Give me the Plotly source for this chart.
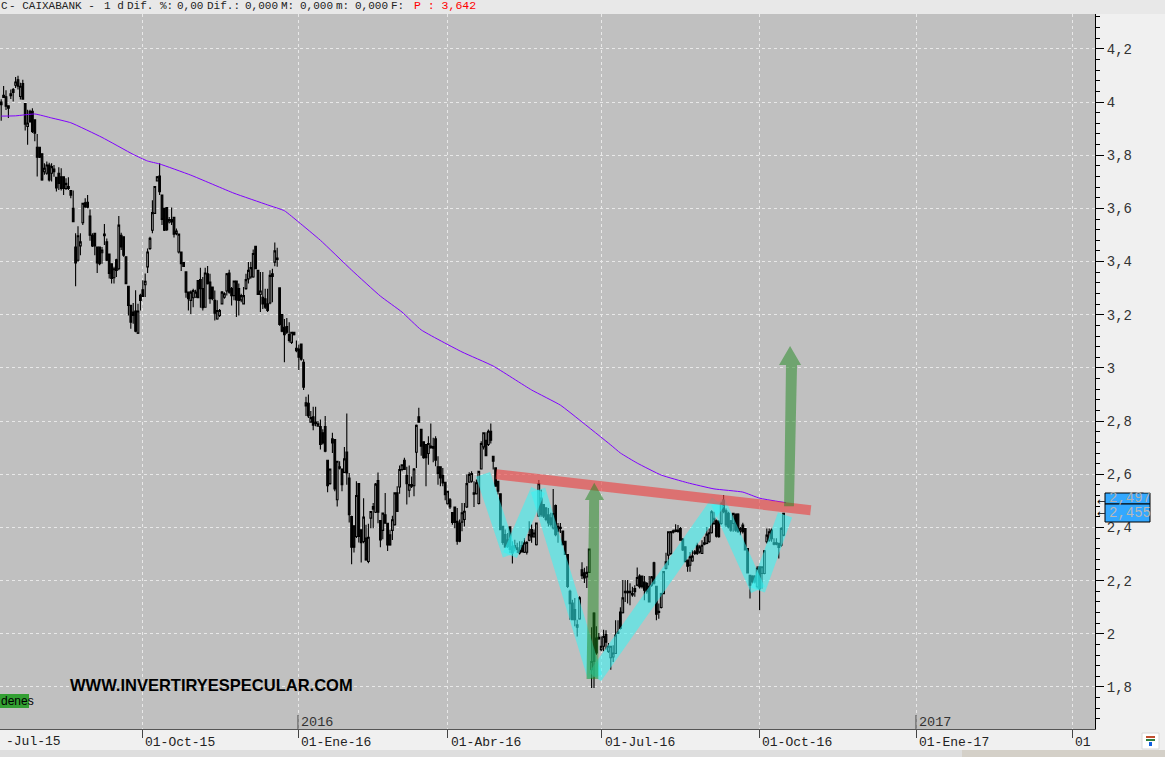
import plotly.graph_objects as go

opens = [4.00,4.025,4.02,3.986,4.031,4.047,4.063,4.084,4.021,4.069,3.994,3.908,3.965,3.965,3.933,3.83,3.83,3.805,3.738,3.732,
3.763,3.732,3.748,3.717,3.732,3.719,3.719,3.675,3.682,3.667,3.6,3.455,3.405,3.459,3.546,3.621,3.623,3.571,3.499,3.506,
3.455,3.455,3.433,3.503,3.474,3.428,3.392,3.339,3.407,3.373,3.499,3.493,3.418,3.307,3.235,3.21,3.214,3.131,3.273,3.294,
3.313,3.38,3.449,3.518,3.581,3.703,3.722,
3.65,3.6,3.603,3.549,3.558,3.566,3.505,3.436,3.436,3.396,3.361,3.285,3.254,3.264,3.266,3.329,3.332,3.298,3.228,3.354,
3.323,3.304,3.254,3.184,3.197,3.241,3.266,3.289,3.357,3.298,3.272,3.327,3.298,3.256,3.241,3.298,3.335,3.342,3.342,3.457,
3.367,3.276,3.266,3.26,3.241,3.244,3.354,3.398,3.413,3.301,3.201,3.153,3.156,3.125,3.096,3.134,3.074,3.071,3.09,3.021,
2.869,2.867,2.796,2.816,2.796,2.781,2.779,2.756,2.779,2.653,2.565,2.733,2.731,2.504,2.623,2.618,2.607,2.684,2.586,2.441,
2.406,2.366,2.565,2.391,2.347,2.36,2.272,2.435,2.479,2.457,2.576,2.426,2.389,2.448,2.416,2.372,2.389,2.41,2.53,2.552,
2.618,2.653,2.595,2.54,2.561,2.557,2.683,2.816,2.769,2.722,2.712,2.678,2.706,2.704,2.733,2.628,2.628,2.595,2.57,2.489,
2.504,2.456,2.477,
2.423,2.417,2.42,2.43,2.477,2.57,2.574,2.53,2.527,2.49,2.62,2.703,2.728,2.712,2.762,2.668,2.624,2.574,2.527,2.404,
2.373,2.354,2.402,2.329,2.332,2.323,2.304,2.332,2.307,2.307,2.352,2.392,2.367,2.335,2.442,2.511,2.486,2.473,2.448,2.436,
2.398,2.482,2.404,2.401,2.386,2.348,2.298,2.16,2.116,2.091,2.025,2.056,2.241,2.229,2.214,2.231,1.865,2.078,1.984,1.987,
1.94,1.953,1.997,1.934,1.91,
1.913,1.926,2.007,2.082,2.079,2.16,2.155,2.16,2.151,2.17,2.183,2.217,2.217,2.195,2.189,2.179,2.183,2.267,2.179,2.085,
2.099,2.151,2.246,2.296,2.302,2.387,2.39,2.39,2.396,2.356,2.327,2.277,2.258,2.274,2.308,2.333,2.308,2.302,2.342,2.34,
2.346,2.38,2.415,2.425,2.421,2.415,2.503,2.463,2.453,2.425,2.415,2.45,2.45,2.387,2.409,2.396,2.321,2.22,2.217,2.217,
2.177,2.252,2.227,2.227,2.346,2.352,2.39,2.342,2.342,2.34,2.333,2.371]

highs = [4.01,4.06,4.044,3.986,4.047,4.053,4.094,4.099,4.072,4.084,3.996,3.971,3.971,3.977,3.933,3.88,3.83,3.805,3.77,3.776,
3.772,3.77,3.763,3.719,3.755,3.751,3.72,3.713,3.717,3.667,3.667,3.506,3.533,3.506,3.621,3.638,3.65,3.596,3.506,3.506,
3.455,3.455,3.455,3.541,3.487,3.428,3.392,3.38,3.411,3.571,3.508,3.493,3.418,3.307,3.235,3.244,3.292,3.241,3.279,3.33,
3.355,3.449,3.493,3.631,3.682,3.722,3.77,
3.65,3.6,3.603,3.568,3.603,3.568,3.524,3.503,3.436,3.396,3.361,3.285,3.291,3.298,3.294,3.329,3.377,3.342,3.377,3.383,
3.354,3.304,3.291,3.254,3.222,3.289,3.285,3.357,3.369,3.304,3.327,3.327,3.317,3.279,3.304,3.354,3.398,3.398,3.445,3.457,
3.367,3.361,3.361,3.298,3.298,3.367,3.373,3.472,3.452,3.301,3.203,3.184,3.188,3.172,3.134,3.134,3.103,3.088,3.09,3.033,
2.892,2.9,2.838,2.854,2.854,2.8,2.806,2.769,2.819,2.653,2.62,2.756,2.731,2.649,2.649,2.624,2.703,2.829,2.605,2.444,
2.406,2.574,2.567,2.391,2.51,2.41,2.414,2.46,2.492,2.567,2.607,2.426,2.454,2.53,2.416,2.391,2.444,2.53,2.555,2.633,
2.636,2.662,2.628,2.633,2.592,2.624,2.787,2.85,2.769,2.724,2.712,2.743,2.791,2.737,2.743,2.668,2.628,2.624,2.57,2.536,
2.511,2.456,2.477,
2.473,2.43,2.492,2.492,2.599,2.608,2.611,2.574,2.58,2.611,2.724,2.758,2.758,2.768,2.791,2.67,2.624,2.574,2.527,2.404,
2.392,2.379,2.404,2.348,2.354,2.342,2.348,2.348,2.36,2.348,2.423,2.411,2.392,2.417,2.578,2.542,2.486,2.477,2.473,2.455,
2.545,2.486,2.417,2.417,2.386,2.348,2.298,2.166,2.128,2.135,2.053,2.141,2.269,2.248,2.254,2.319,2.025,2.081,2.028,2.003,
1.99,2.015,2.013,1.965,1.953,
1.957,2.051,2.051,2.1,2.202,2.202,2.202,2.19,2.177,2.183,2.249,2.224,2.217,2.217,2.195,2.217,2.217,2.271,2.179,2.114,
2.154,2.234,2.305,2.384,2.387,2.392,2.412,2.409,2.402,2.359,2.327,2.277,2.308,2.315,2.315,2.342,2.333,2.352,2.365,2.402,
2.396,2.465,2.459,2.43,2.428,2.497,2.522,2.471,2.459,2.428,2.455,2.45,2.453,2.402,2.418,2.396,2.321,2.22,2.22,2.22,
2.254,2.254,2.254,2.315,2.396,2.396,2.396,2.359,2.359,2.34,2.402,2.455]

lows = [3.93,4.015,3.97,3.94,4.011,4.002,4.053,4.047,4.009,4.009,3.893,3.839,3.921,3.883,3.852,3.72,3.789,3.704,3.726,3.726,
3.701,3.701,3.719,3.663,3.669,3.667,3.65,3.669,3.669,3.638,3.55,3.307,3.399,3.424,3.537,3.6,3.6,3.478,3.455,3.424,
3.357,3.386,3.392,3.462,3.402,3.336,3.317,3.317,3.342,3.367,3.443,3.418,3.317,3.197,3.147,3.166,3.134,3.128,3.216,3.267,
3.267,3.357,3.443,3.506,3.579,3.701,3.65,
3.537,3.515,3.515,3.543,3.537,3.49,3.499,3.43,3.364,3.382,3.264,3.216,3.203,3.228,3.264,3.264,3.226,3.216,3.226,3.314,
3.241,3.254,3.178,3.181,3.191,3.239,3.26,3.272,3.279,3.235,3.254,3.191,3.197,3.247,3.239,3.294,3.317,3.335,3.339,3.373,
3.276,3.21,3.222,3.222,3.21,3.239,3.247,3.382,3.38,3.159,3.134,3.021,3.128,3.096,3.09,3.122,3.059,2.992,3.027,2.917,
2.819,2.812,2.794,2.766,2.781,2.779,2.693,2.712,2.683,2.532,2.561,2.68,2.536,2.479,2.618,2.536,2.605,2.561,2.419,2.262,
2.306,2.36,2.343,2.268,2.341,2.275,2.265,2.397,2.397,2.454,2.416,2.326,2.356,2.416,2.311,2.331,2.353,2.406,2.46,2.527,
2.611,2.618,2.486,2.514,2.548,2.517,2.624,2.794,2.67,2.658,2.555,2.636,2.696,2.645,2.63,2.561,2.555,2.555,2.502,2.486,
2.469,2.41,2.397,
2.335,2.344,2.386,2.404,2.473,2.568,2.568,2.477,2.524,2.486,2.618,2.693,2.668,2.706,2.716,2.618,2.555,2.524,2.392,2.335,
2.323,2.323,2.304,2.264,2.31,2.304,2.298,2.304,2.304,2.298,2.348,2.342,2.36,2.332,2.44,2.44,2.436,2.423,2.404,2.404,
2.392,2.367,2.342,2.379,2.332,2.298,2.172,2.053,2.053,2.028,1.99,2.053,2.206,2.191,2.172,2.229,1.796,1.796,1.921,1.978,
1.934,1.934,1.94,1.928,1.865,
1.894,1.926,2.0,2.016,2.076,2.12,2.114,2.107,2.139,2.139,2.179,2.17,2.17,2.126,2.151,2.12,2.177,2.185,2.051,2.057,
2.095,2.149,2.242,2.258,2.296,2.377,2.382,2.38,2.352,2.311,2.271,2.233,2.233,2.271,2.296,2.296,2.302,2.3,2.333,2.337,
2.342,2.377,2.409,2.362,2.361,2.41,2.453,2.402,2.396,2.384,2.384,2.384,2.38,2.371,2.377,2.315,2.227,2.133,2.189,2.189,
2.17,2.089,2.17,2.224,2.34,2.346,2.346,2.333,2.333,2.283,2.327,2.367]

closes = [3.99,4.017,3.984,3.977,4.024,4.036,4.075,4.059,4.059,4.011,3.917,3.921,3.927,3.889,3.883,3.792,3.792,3.707,3.751,3.763,
3.707,3.757,3.738,3.677,3.694,3.675,3.675,3.694,3.675,3.65,3.55,3.395,3.497,3.474,3.619,3.606,3.604,3.499,3.459,3.459,
3.395,3.392,3.443,3.497,3.405,3.355,3.336,3.373,3.367,3.537,3.455,3.424,3.317,3.235,3.172,3.197,3.138,3.214,3.254,3.269,
3.326,3.436,3.487,3.584,3.682,3.719,3.663,
3.558,3.518,3.52,3.558,3.549,3.503,3.515,3.503,3.392,3.382,3.285,3.26,3.285,3.291,3.285,3.264,3.298,3.226,3.357,3.317,
3.26,3.26,3.206,3.216,3.216,3.285,3.279,3.354,3.285,3.272,3.327,3.256,3.254,3.272,3.272,3.332,3.367,3.377,3.43,3.373,
3.276,3.289,3.241,3.228,3.216,3.348,3.344,3.44,3.408,3.163,3.138,3.125,3.134,3.103,3.134,3.125,3.065,3.04,3.033,2.927,
2.857,2.819,2.813,2.785,2.791,2.79,2.712,2.718,2.687,2.557,2.62,2.718,2.545,2.649,2.628,2.561,2.658,2.605,2.448,2.326,
2.326,2.52,2.366,2.343,2.439,2.278,2.363,2.46,2.469,2.563,2.457,2.353,2.454,2.416,2.334,2.334,2.429,2.53,2.46,2.618,
2.636,2.618,2.565,2.561,2.555,2.62,2.784,2.796,2.706,2.662,2.662,2.716,2.7,2.698,2.653,2.603,2.586,2.567,2.523,2.536,
2.477,2.419,2.419,
2.348,2.348,2.455,2.461,2.565,2.599,2.603,2.525,2.568,2.611,2.716,2.756,2.67,2.762,2.728,2.649,2.555,2.536,2.392,2.344,
2.327,2.329,2.317,2.304,2.323,2.317,2.314,2.31,2.342,2.344,2.373,2.364,2.379,2.417,2.565,2.448,2.442,2.43,2.417,2.411,
2.452,2.373,2.386,2.396,2.335,2.298,2.178,2.113,2.053,2.053,2.034,2.135,2.219,2.21,2.231,2.319,1.896,1.896,1.928,1.981,
1.953,1.99,1.968,1.953,1.953,
1.928,1.995,2.001,2.02,2.135,2.155,2.16,2.155,2.146,2.158,2.212,2.177,2.177,2.164,2.158,2.12,2.214,2.19,2.074,2.08,
2.151,2.234,2.271,2.384,2.384,2.382,2.385,2.385,2.352,2.315,2.271,2.254,2.29,2.292,2.302,2.302,2.327,2.333,2.337,2.375,
2.38,2.459,2.434,2.367,2.365,2.49,2.459,2.409,2.402,2.39,2.453,2.39,2.384,2.396,2.384,2.315,2.229,2.183,2.195,2.195,
2.246,2.17,2.252,2.312,2.371,2.384,2.358,2.337,2.337,2.325,2.396,2.453]

ma_sessions = [0,6,14,21,29,42,55,61,66,79,97,111,118,124,133,146,158,167,175,192,205,221,233,241,254,258,265,275,286,297,309,316,327]
ma_values = [3.947,3.948,3.955,3.94,3.922,3.867,3.803,3.778,3.767,3.725,3.657,3.613,3.591,3.548,3.48,3.368,3.27,3.21,3.143,3.06,3.007,2.917,2.86,2.804,2.71,2.68,2.642,2.597,2.568,2.545,2.533,2.51,2.493]

zigzag_sessions = [200.75,212,223.7,247.4,298.7,315.3,326.6]
zigzag_prices = [2.6,2.296,2.541,1.838,2.496,2.165,2.447]
neck_sessions = [206.2,337.3]
neck_prices = [2.6,2.465]

y_ticks = [1.8,2.0,2.2,2.4,2.6,2.8,3.0,3.2,3.4,3.6,3.8,4.0,4.2]
y_labels = ["1,8","2","2,2","2,4","2,6","2,8","3","3,2","3,4","3,6","3,8","4","4,2"]
x_ticks = [58.67,123.67,185.96,250.33,315.75,381.17,446.17]
x_labels = ["01-Oct-15","01-Ene-16","01-Abr-16","01-Jul-16","01-Oct-16","01-Ene-17","01"]

W, H, L, T, PW, PH = 1165, 757, 0, 14, 1095, 715
def px(v): return v / PW
def py(v): return (T + PH - v) / PH

sessions = list(range(len(opens)))
fig = go.Figure()
fig.add_trace(go.Candlestick(x=sessions, open=opens, high=highs, low=lows, close=closes,
    increasing=dict(line=dict(color="#000000", width=1.1), fillcolor="#c0c0c0"),
    decreasing=dict(line=dict(color="#000000", width=1.1), fillcolor="#000000"),
    whiskerwidth=0, showlegend=False, hoverinfo="skip"))
fig.add_trace(go.Scatter(x=ma_sessions, y=ma_values, mode="lines",
    line=dict(color="#8000ff", width=1, shape="spline", smoothing=0.4), showlegend=False, hoverinfo="skip"))

shapes = []
def pshape(kind, x0, y0, x1, y1, fill, line=None, lw=0, layer="above"):
    shapes.append(dict(type=kind, xref="paper", yref="paper", x0=px(x0), x1=px(x1), y0=py(y0), y1=py(y1),
        fillcolor=fill, line=dict(color=line or fill, width=lw), layer=layer))

# overlays in data coordinates
for i in range(len(zigzag_sessions) - 1):
    shapes.append(dict(type="line", x0=zigzag_sessions[i], x1=zigzag_sessions[i+1], y0=zigzag_prices[i], y1=zigzag_prices[i+1],
        line=dict(color="rgba(50,245,245,0.55)", width=15), layer="above"))
shapes.append(dict(type="line", x0=neck_sessions[0], x1=neck_sessions[1], y0=neck_prices[0], y1=neck_prices[1],
    line=dict(color="rgba(235,70,70,0.65)", width=10), layer="above"))
green = "rgba(30,136,30,0.5)"
shapes.append(dict(type="path", path="M243.9,1.83 L248.8,1.83 L249.1,2.503 L251.2,2.503 L247.1,2.568 L243.2,2.503 L245,2.503 Z",
    fillcolor=green, line=dict(width=0), layer="above"))
shapes.append(dict(type="path", path="M326.2,2.48 L330.3,2.48 L331.6,3.011 L333.3,3.011 L328.7,3.082 L324.1,3.011 L327,3.011 Z",
    fillcolor=green, line=dict(width=0), layer="above"))

# chrome
pshape("rect", 0, 0, W, 14, "#e8e8e8")
pshape("rect", 0, 694, 29, 708, "#33a033")
pshape("rect", 0, 750, 962, 757, "#dedede")
pshape("rect", 962, 750, W, 757, "#d4d0c8")
pshape("rect", 1142, 733, 1159, 749, "#ffffff", "#d8d8d8", 1)
pshape("rect", 1146, 736, 1155, 738, "#c05030")
pshape("rect", 1146, 739, 1155, 741, "#308040")
pshape("rect", 1149, 742, 1152, 746, "#1060e0")
pshape("rect", 1105, 493, 1150, 504, "#33a8ff", "#000000", 1)
pshape("rect", 1105, 504, 1150, 522, "#33a8ff", "#000000", 1)
for xt in (298, 916):
    shapes.append(dict(type="line", xref="paper", yref="paper", x0=px(xt), x1=px(xt), y0=py(715), y1=py(729),
        line=dict(color="#444444", width=1), layer="above"))

mono = "Liberation Mono"
anns = []
def text(x, y, s, size=10.5, color="#222222", family=mono, bold=False, anchor="left"):
    anns.append(dict(xref="paper", yref="paper", x=px(x), y=py(y), text=("<b>%s</b>" % s) if bold else s,
        xanchor=anchor, yanchor="middle", showarrow=False, align="left",
        font=dict(family=family, size=size, color=color)))

for x, s in [(-1,"C"),(7,"- CAIXABANK -"),(102,"1 d"),(125,"Dif. %:"),(175,"0,00"),(205,"Dif.:"),(243,"0,000"),
             (279,"M:"),(298,"0,000"),(334,"m:"),(353,"0,000"),(389,"F:")]:
    text(x, 6, s, size=11)
text(412, 6, "P : 3,642", size=11.5, color="#ff0000")
text(68, 685, "WWW.INVERTIRYESPECULAR.COM", size=16.5, color="#000000", family="Liberation Sans", bold=True)
text(-1, 701, "denes", size=12, color="#000000", family="Liberation Sans")
text(299, 722, "2016", size=13.5, color="#333333", family=mono)
text(917, 722, "2017", size=13.5, color="#333333", family=mono)
text(1107, 498, "2,497", size=14, color="#b0b0b0", family=mono)
text(1107, 513, "2,455", size=14, color="#b8b8b8", family=mono)
text(1095, 501, "←", size=10, color="#000000", family="DejaVu Sans")
text(1095, 513, "←", size=10, color="#000000", family="DejaVu Sans")
text(4, 742, "-Jul-15", size=13, color="#222222", family=mono)
for v, s in zip(x_ticks, x_labels):
    anns.append(dict(x=v, y=0, xref="x", yref="paper", yshift=-13, xshift=1, text=s, showarrow=False, xanchor="left",
        yanchor="middle", font=dict(family=mono, size=13, color="#222222")))

fig.update_layout(width=W, height=H, margin=dict(l=0, r=70, t=14, b=28, pad=0), autosize=False,
    paper_bgcolor="#f0f0f0", plot_bgcolor="#c0c0c0", showlegend=False, boxgap=0,
    shapes=shapes, annotations=anns,
    xaxis=dict(range=[-0.5, 455.75], rangeslider=dict(visible=False), tickmode="array", tickvals=x_ticks, ticktext=[""]*len(x_ticks),
        showgrid=True, gridcolor="#e8e8e8", griddash="3px,3px", gridwidth=1, zeroline=False,
        ticks="outside", ticklen=8, tickcolor="#444444", showline=True, linecolor="#555555", linewidth=1),
    yaxis=dict(range=[1.642, 4.331], side="right", tickmode="array", tickvals=y_ticks, ticktext=y_labels,
        showgrid=True, gridcolor="#e8e8e8", griddash="3px,3px", gridwidth=1, zeroline=False,
        ticks="outside", ticklen=8, tickcolor="#000000", showline=True, linecolor="#000000", linewidth=1,
        tickfont=dict(family=mono, size=14, color="#333333"),
        minor=dict(tick0=1.8, dtick=0.04, ticks="outside", ticklen=4, tickcolor="#000000", showgrid=False)))

fig.write_html("out.html", config=dict(displayModeBar=False, responsive=False),
    post_script="document.body.style.margin='0';document.body.style.overflow='hidden';")
